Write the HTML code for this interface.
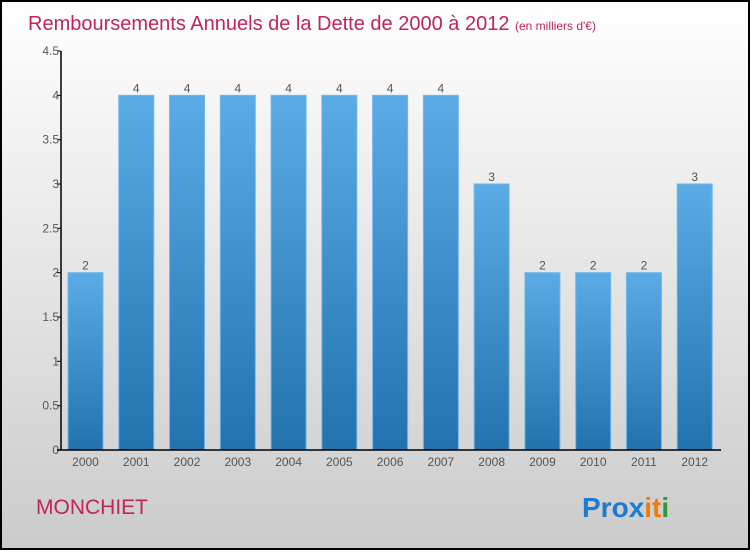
<!DOCTYPE html>
<html><head><meta charset="utf-8"><style>
body{margin:0;width:750px;height:550px;overflow:hidden;font-family:"Liberation Sans",sans-serif}
</style></head><body>
<svg id="c" width="750" height="550" xmlns="http://www.w3.org/2000/svg">
<defs>
<linearGradient id="bg" x1="0" y1="0" x2="0" y2="1"><stop offset="0" stop-color="#ffffff"/><stop offset="1" stop-color="#cbcbcb"/></linearGradient>
<linearGradient id="bar" x1="0" y1="0" x2="0" y2="1"><stop offset="0" stop-color="#5aabe6"/><stop offset="1" stop-color="#2272b0"/></linearGradient>
</defs>
<rect x="1" y="1" width="748" height="548" fill="url(#bg)" stroke="#000" stroke-width="2"/>
<text x="28" y="30" font-size="20" fill="#c0245a">Remboursements Annuels de la Dette de 2000 à 2012 <tspan font-size="12">  (en milliers d'€)</tspan></text>
<g id="plot"></g>
<text x="36" y="514" font-size="21" fill="#c0245a">MONCHIET</text>
<text x="582" y="517" font-size="28" font-weight="bold"><tspan fill="#1a7bd0">Pro</tspan><tspan fill="#1a7bd0">x</tspan><tspan fill="#f07a10">i</tspan><tspan fill="#f07a10">t</tspan><tspan fill="#2a9a3a">i</tspan></text>
</svg>
<script>
const categories=["2000","2001","2002","2003","2004","2005","2006","2007","2008","2009","2010","2011","2012"];
const values=[2,4,4,4,4,4,4,4,3,2,2,2,3];
const tickValues=[0,0.5,1,1.5,2,2.5,3,3.5,4,4.5];
const tickLabels=["0","0.5","1","1.5","2","2.5","3","3.5","4","4.5"];
const NS="http://www.w3.org/2000/svg";
const g=document.getElementById("plot");
const x0=61,x1=721,y0=450,yTop=51,yMax=4.5;
const band=(x1-x0)/categories.length;
const y=v=>y0-(v/yMax)*(y0-yTop);
const xb=i=>x0+i*band;
function mk(t,a,txt){const e=document.createElementNS(NS,t);for(const k in a)e.setAttribute(k,a[k]);if(txt!=null)e.textContent=txt;g.appendChild(e);return e;}
values.forEach((v,i)=>{
 const r=mk("rect",{x:xb(i)+7,y:y(v),width:35,height:y0-y(v),fill:"url(#bar)",stroke:"#6fb8ec","stroke-width":1});
 
 
 const t=mk("text",{x:xb(i)+24.5,y:y(v)-3,"font-size":12,fill:"#555","text-anchor":"middle"},String(v));
 
 
 const c=mk("text",{x:xb(i)+24.5,y:466,"font-size":12,fill:"#555","text-anchor":"middle"},categories[i]);
 
 
});
tickValues.forEach((v,i)=>{
 const l=mk("line",{x1:x0-4,x2:x0,y1:y(v),y2:y(v),stroke:"#000"});
 
 
 const t=mk("text",{x:x0-2,y:y(v)+4,"font-size":12,fill:"#555","text-anchor":"end"},tickLabels[i]);
 
 
});
const ya=mk("line",{x1:x0,x2:x0,y1:yTop,y2:y0,stroke:"#000","stroke-width":1.5});


const xa=mk("line",{x1:x0-4,x2:x1,y1:y0,y2:y0,stroke:"#000","stroke-width":1.5});


</script>
</body></html>
